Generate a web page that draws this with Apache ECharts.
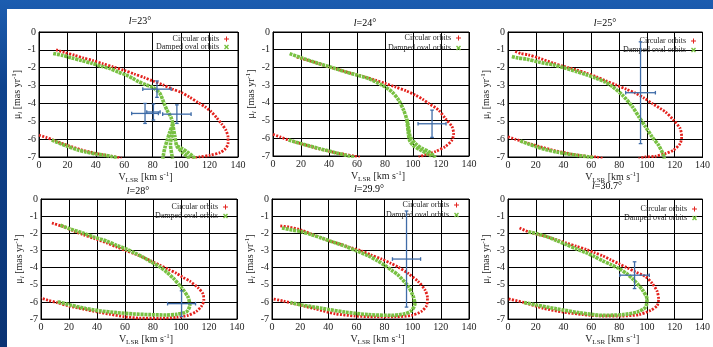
<!DOCTYPE html>
<html>
<head>
<meta charset="utf-8">
<script src="https://cdn.jsdelivr.net/npm/echarts/dist/echarts.min.js"></script>
<style>
  html, body { margin: 0; padding: 0; width: 713px; height: 347px; overflow: hidden;
    background: linear-gradient(180deg, #1c5db0 0%, #0f438d 25%, #0a3373 100%); }
  #sheet { position: absolute; left: 7px; top: 9px; width: 706px; height: 338px; background: #fff; }
  #chart { position: absolute; left: 0; top: 0; width: 713px; height: 347px; }
</style>
</head>
<body>
<div id="sheet"></div>
<div id="chart"></div>
<script>
// Galactic longitudes of the six panels
const longitudes = ['23°', '24°', '25°', '28°', '29.9°', '30.7°'];

// Axis ticks
const xTicks = { min: 0, max: 140, step: 20 };
const yTicks = { min: -7, max: 0, step: 1 };

// ---- l = 23° ----
const circ23Upper = [[12,-1.0],[18,-1.15],[25,-1.3],[31,-1.45],[38,-1.6],[45,-1.78],[52,-1.95],[60,-2.15],[67,-2.35],[74,-2.55],[80,-2.74],[87,-2.95],[94,-3.2],[100,-3.38],[106,-3.65],[112,-3.95],[117,-4.2],[121,-4.45],[125,-4.8],[128.5,-5.15],[131.5,-5.5],[133,-5.9],[133,-6.25],[131,-6.55],[127.5,-6.75],[120.5,-6.9],[113,-7.0],[106,-7.1]];
const circ23Lower = [[0,-5.78],[5,-5.9],[10,-6.05],[20,-6.35],[30,-6.6],[40,-6.8],[47,-6.9],[53,-6.98],[58,-7.08]];
const damp23Upper = [[10,-1.2],[16,-1.3],[23,-1.45],[30,-1.6],[37,-1.75],[44,-1.92],[50,-2.05],[56,-2.25],[61,-2.4],[66,-2.6],[70,-2.78],[75,-2.95],[80,-3.1],[85,-3.43],[88,-4.0],[90,-4.37],[92.7,-4.75],[94,-5.12],[92,-5.6],[90,-6.1],[88.5,-6.5],[87.5,-6.9],[87,-7.1]];
const damp23StrandB = [[94,-5.12],[93.5,-5.7],[92.5,-6.3],[93.5,-6.9],[94,-7.1]];
const damp23StrandC = [[94,-5.12],[95.5,-5.8],[97,-6.4],[101,-6.75],[104,-6.95],[106,-7.1]];
const damp23StrandD = [[97,-6.4],[100,-6.5],[104,-6.7],[108,-6.95],[110,-7.1]];
const damp23Lower = [[9,-6.05],[15,-6.25],[20,-6.4],[27,-6.6],[33,-6.72],[40,-6.83],[46,-6.9],[51,-6.97],[55,-7.05]];
const err23 = [[83,-3.2,10,0.46],[74.6,-4.56,9.4,0.56],[80.5,-4.48,4.7,0.45],[97,-4.6,10,0.52]];

// ---- l = 24° ----
const circ24Upper = [[17,-1.42],[20.7,-1.5],[30,-1.72],[39.8,-1.97],[48,-2.15],[56.4,-2.35],[65,-2.52],[73.1,-2.72],[80,-2.9],[87.4,-3.1],[95,-3.32],[101.7,-3.56],[107,-3.8],[111.2,-4.03],[118.3,-4.41],[123.1,-4.88],[127.9,-5.35],[129,-5.72],[127.9,-6.1],[123,-6.47],[116,-6.75],[108.8,-6.94],[104,-7.05]];
const circ24Lower = [[0,-5.78],[5,-5.92],[11.2,-6.1],[22,-6.35],[33,-6.6],[44,-6.8],[52,-6.92],[57.6,-7.0],[62,-7.08]];
const damp24Upper = [[11.9,-1.22],[20,-1.45],[32.6,-1.78],[42,-2.0],[51.7,-2.25],[60,-2.43],[68.3,-2.63],[77.9,-3.0],[85,-3.38],[89.8,-3.85],[93.3,-4.41],[95.7,-4.97],[96.9,-5.44],[98,-5.91],[101.7,-6.29],[106.4,-6.57],[111.2,-6.75],[114.8,-7.0],[116,-7.1]];
const damp24StrandB = [[95.7,-4.97],[96.5,-5.6],[97.5,-6.1],[100,-6.4],[105,-6.65],[110,-6.85],[113,-7.0]];
const damp24Lower = [[11.2,-6.1],[20,-6.3],[32.6,-6.57],[44.5,-6.81],[54,-7.0],[58,-7.08]];
const err24 = [[113.6,-5.18,10,0.77]];

// ---- l = 25° ----
const circ25Upper = [[5.2,-1.09],[9,-1.2],[14.7,-1.28],[22,-1.45],[32.5,-1.74],[40,-1.92],[49.1,-2.12],[56,-2.3],[63.4,-2.5],[70,-2.72],[77.6,-2.96],[85,-3.2],[91.8,-3.43],[98,-3.7],[103.7,-4.0],[113.2,-4.47],[119.1,-4.93],[123.9,-5.4],[125,-5.87],[123.9,-6.25],[119.1,-6.62],[113.2,-6.81],[106,-6.96],[99,-7.0],[94,-7.1]];
const circ25Lower = [[0,-5.87],[5,-6.0],[11.2,-6.15],[22,-6.4],[34,-6.65],[45,-6.82],[56.2,-6.96],[63.4,-7.0],[68,-7.08]];
const damp25Upper = [[2.8,-1.37],[7,-1.45],[13.5,-1.52],[22,-1.68],[32.5,-1.84],[40,-2.0],[49.1,-2.21],[56,-2.38],[63.4,-2.59],[70,-2.8],[75.2,-3.06],[82.3,-3.53],[89.5,-4.18],[94.2,-4.75],[99,-5.31],[103.7,-5.87],[108.4,-6.34],[112,-6.9],[112.5,-7.1]];
const damp25Lower = [[8.8,-6.1],[14,-6.25],[20.6,-6.43],[27,-6.58],[34.9,-6.72],[42,-6.82],[49.1,-6.9],[58.6,-7.0],[62,-7.05]];
const err25 = [[95.4,-3.4,10.7,2.85]];

// ---- l = 28° ----
const circ28 = [[7.8,-1.4],[16.1,-1.62],[23,-1.85],[30.4,-2.09],[38,-2.3],[47,-2.56],[54,-2.8],[61.2,-3.02],[67,-3.2],[73.1,-3.4],[79,-3.63],[85,-3.86],[91,-4.1],[96.8,-4.33],[101,-4.55],[106.3,-4.79],[112.2,-5.17],[115.8,-5.54],[116.3,-5.91],[114.6,-6.25],[111,-6.55],[105,-6.78],[96.8,-6.9],[85,-6.95],[70,-6.94],[58.9,-6.85],[49.4,-6.72],[40,-6.58],[30.4,-6.42],[20,-6.24],[11.4,-6.04],[5,-5.9],[0,-5.78]];
const damp28 = [[13.8,-1.53],[20,-1.72],[30.4,-2.0],[38,-2.22],[47,-2.46],[54,-2.7],[61.2,-2.93],[67,-3.15],[73.1,-3.4],[79,-3.68],[85,-3.96],[90,-4.28],[94.4,-4.61],[100.4,-5.17],[105.1,-5.73],[106.3,-6.19],[104,-6.57],[97,-6.72],[89.7,-6.76],[78,-6.74],[66,-6.7],[54,-6.62],[42.2,-6.52],[32,-6.38],[22,-6.2],[11.4,-5.98]];
const err28 = [[100.4,-6.1,10,0.75]];

// ---- l = 29.9° ----
const circ299 = [[5.9,-1.57],[11.8,-1.63],[21.2,-1.82],[28,-2.05],[35.4,-2.28],[42,-2.47],[49.6,-2.66],[56,-2.84],[63.7,-3.03],[70,-3.25],[77.9,-3.5],[84,-3.73],[89.7,-3.97],[96.8,-4.34],[103.9,-4.81],[108.6,-5.28],[110.5,-5.75],[109.8,-6.22],[106.2,-6.55],[99.2,-6.78],[87.3,-6.87],[73.2,-6.87],[59,-6.82],[44.9,-6.69],[30.7,-6.4],[16.5,-6.12],[8,-5.95],[0,-5.81]];
const damp299 = [[7.1,-1.69],[14,-1.8],[21.2,-1.91],[28,-2.08],[35.4,-2.28],[43,-2.5],[51.9,-2.75],[60,-3.02],[68.5,-3.31],[75,-3.6],[80.3,-3.88],[85,-4.15],[89.7,-4.44],[96.8,-5.09],[100.3,-5.66],[101.5,-6.12],[99.2,-6.5],[94.4,-6.69],[85,-6.78],[68.5,-6.74],[51.9,-6.59],[35.4,-6.37],[21.2,-6.18],[13,-6.03]];
const err299 = [[95.6,-3.5,10,2.8]];

// ---- l = 30.7° ----
const circ307 = [[8.3,-1.69],[14.7,-1.91],[21,-2.05],[27.8,-2.19],[35,-2.38],[42,-2.57],[49,-2.75],[56.2,-2.94],[62,-3.12],[68.1,-3.31],[74,-3.55],[80,-3.78],[86,-4.02],[91.8,-4.25],[99,-4.53],[103.7,-4.91],[107.3,-5.37],[108.4,-5.84],[107.3,-6.22],[102.5,-6.5],[94.2,-6.74],[82.3,-6.82],[68.1,-6.82],[53.9,-6.74],[39.6,-6.59],[25.4,-6.37],[11.2,-6.03],[0,-5.81]];
const damp307 = [[14.7,-1.91],[21,-2.03],[27.8,-2.19],[35,-2.42],[42,-2.66],[49,-2.9],[56.2,-3.13],[62,-3.35],[68.1,-3.6],[74,-3.82],[80,-4.06],[85,-4.33],[89.5,-4.63],[96.6,-5.28],[100.1,-5.84],[99,-6.31],[93,-6.59],[82.3,-6.74],[68.1,-6.78],[51.5,-6.63],[34.9,-6.4],[20.6,-6.18],[11.2,-6.03]];
const err307 = [[91.1,-4.44,10.6,0.78]];

const circularByPanel = [[circ23Upper, circ23Lower],[circ24Upper, circ24Lower],[circ25Upper, circ25Lower],[circ28],[circ299],[circ307]];
const dampedByPanel = [[damp23Upper, damp23StrandB, damp23StrandC, damp23StrandD, damp23Lower],[damp24Upper, damp24StrandB, damp24Lower],[damp25Upper, damp25Lower],[damp28],[damp299],[damp307]];
const errorsByPanel = [err23, err24, err25, err28, err299, err307];

// ---- styling / layout ----
const SERIF = '"Liberation Serif","DejaVu Serif",serif';
const INK = '#1e1e1e';
const RED = '#e3211c';
const GREEN = '#78c142';
const BLUE = '#3f6ca8';
const CIRC = 'Circular orbits';
const DAMP = 'Damped oval orbits';

const grids = [
  { left: 39, top: 32, width: 199, height: 125 },
  { left: 273, top: 32, width: 196, height: 124 },
  { left: 508, top: 32, width: 196, height: 125 },
  { left: 41, top: 199, width: 196, height: 125 },
  { left: 272, top: 199, width: 197, height: 125 },
  { left: 508, top: 199, width: 196, height: 125 }
];
const titlePos = [[140, 21], [365, 23], [605, 23], [138, 191], [369, 189], [607, 186]];
const legendPos = [
  { right: 484, top: 35, gap: 0 }, { right: 252, top: 34, gap: 2 }, { right: 17, top: 37, gap: 1 },
  { right: 485, top: 203, gap: 1 }, { right: 254, top: 201, gap: 2 }, { right: 16, top: 205, gap: 1 }
];

const rich = {
  v: { fontFamily: SERIF, fontSize: 10, color: INK, lineHeight: 13 },
  i: { fontFamily: SERIF, fontSize: 10, fontStyle: 'italic', color: INK, lineHeight: 13 },
  s: { fontFamily: SERIF, fontSize: 7, color: INK, verticalAlign: 'bottom', lineHeight: 8 },
  si: { fontFamily: SERIF, fontSize: 7, fontStyle: 'italic', color: INK, verticalAlign: 'bottom', lineHeight: 8 },
  p: { fontFamily: SERIF, fontSize: 7, color: INK, verticalAlign: 'top', lineHeight: 8 }
};
const X_NAME = '{v|V}{s|LSR}{v| [km s}{p|-1}{v|]}';
const Y_NAME = '{v|μ}{si|l}{v| [mas yr}{p|-1}{v|]}';

const PLUS = 'path://M2,0H3V2H5V3H3V5H2V3H0V2H2Z';
const CROSS = 'path://M0,1L1,0L2.5,1.5L4,0L5,1L3.5,2.5L5,4L4,5L2.5,3.5L1,5L0,4L1.5,2.5Z';

function errorBars(params, api) {
  const x = api.value(0), y = api.value(1), ex = api.value(2), ey = api.value(3);
  const L = api.coord([x - ex, y]), R = api.coord([x + ex, y]);
  const T = api.coord([x, y + ey]), B = api.coord([x, y - ey]);
  const st = { stroke: BLUE, lineWidth: 1.3 };
  const c = 1.8;
  const seg = (x1, y1, x2, y2) => ({ type: 'line', shape: { x1, y1, x2, y2 }, style: st });
  return {
    type: 'group',
    children: [
      seg(L[0], L[1], R[0], R[1]),
      seg(T[0], T[1], B[0], B[1]),
      seg(L[0], L[1] - c, L[0], L[1] + c),
      seg(R[0], R[1] - c, R[0], R[1] + c),
      seg(T[0] - c, T[1], T[0] + c, T[1]),
      seg(B[0] - c, B[1], B[0] + c, B[1])
    ]
  };
}

const xAxes = [], yAxes = [], series = [], legends = [], graphics = [];
grids.forEach((g, i) => {
  xAxes.push({
    gridIndex: i, type: 'value', min: xTicks.min, max: xTicks.max, interval: xTicks.step,
    name: X_NAME, nameLocation: 'middle', nameGap: i < 3 ? 8 : 12,
    nameTextStyle: { rich, padding: [0, 0, 0, 14] },
    axisLine: { show: true, onZero: false, lineStyle: { color: '#000', width: 1 } },
    axisTick: { show: true, inside: true, length: 3, lineStyle: { color: '#000' } },
    axisLabel: { fontFamily: SERIF, fontSize: 10, color: INK, margin: 3 },
    splitLine: { show: true, lineStyle: { color: '#000', width: 1 } }
  });
  yAxes.push({
    gridIndex: i, type: 'value', min: yTicks.min, max: yTicks.max, interval: yTicks.step,
    name: Y_NAME, nameLocation: 'middle', nameRotate: 90, nameGap: 15,
    nameTextStyle: { rich },
    axisLine: { show: true, onZero: false, lineStyle: { color: '#000', width: 1 } },
    axisTick: { show: true, inside: true, length: 3, lineStyle: { color: '#000' } },
    axisLabel: { fontFamily: SERIF, fontSize: 10, color: INK, margin: 3 },
    splitLine: { show: true, lineStyle: { color: '#000', width: 1 } }
  });
  circularByPanel[i].forEach(pts => series.push({
    type: 'line', name: CIRC, xAxisIndex: i, yAxisIndex: i, data: pts,
    symbol: 'none', smooth: 0.25, color: RED, silent: true,
    lineStyle: { color: RED, width: 2.8, type: [2, 1.4] }
  }));
  dampedByPanel[i].forEach(pts => series.push({
    type: 'line', name: DAMP, xAxisIndex: i, yAxisIndex: i, data: pts,
    symbol: 'none', smooth: 0.25, color: GREEN, silent: true,
    lineStyle: { color: GREEN, width: 3.6, type: [3, 0.8] }
  }));
  series.push({
    type: 'custom', name: 'obs' + i, xAxisIndex: i, yAxisIndex: i,
    data: errorsByPanel[i], encode: { x: 0, y: 1 }, renderItem: errorBars, silent: true, z: 5
  });
  const lp = legendPos[i];
  legends.push({
    orient: 'vertical', align: 'right', right: lp.right, top: lp.top, padding: 0,
    itemWidth: 5, itemHeight: 5, itemGap: lp.gap, selectedMode: false,
    textStyle: { fontFamily: SERIF, fontSize: 8, color: INK, lineHeight: 6 },
    data: [
      { name: CIRC, icon: PLUS, itemStyle: { color: RED } },
      { name: DAMP, icon: CROSS, itemStyle: { color: GREEN } }
    ]
  });
  graphics.push({
    type: 'text', x: titlePos[i][0], y: titlePos[i][1], silent: true,
    style: { text: '{i|l}{v|=' + longitudes[i] + '}', rich, align: 'center', verticalAlign: 'middle' }
  });
});

const chart = echarts.init(document.getElementById('chart'), null, { renderer: 'canvas' });
chart.setOption({
  animation: false,
  backgroundColor: 'transparent',
  grid: grids.map(g => Object.assign({ show: true, borderColor: '#000', borderWidth: 1, backgroundColor: 'transparent' }, g)),
  xAxis: xAxes,
  yAxis: yAxes,
  legend: legends,
  graphic: graphics,
  series
});
</script>
</body>
</html>
